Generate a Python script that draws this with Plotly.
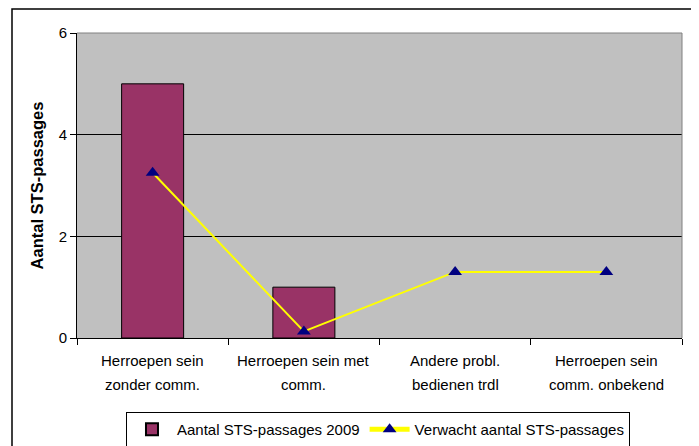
import plotly.graph_objects as go

categories = ["Herroepen sein zonder comm.", "Herroepen sein met comm.",
              "Andere probl. bedienen trdl", "Herroepen sein comm. onbekend"]
label_line1 = ["Herroepen sein", "Herroepen sein met", "Andere probl.", "Herroepen sein"]
label_line2 = ["zonder comm.", "comm.", "bedienen trdl", "comm. onbekend"]
actual_2009 = [5, 1, 0, 0]
expected = [3.25, 0.13, 1.3, 1.3]
y_ticks = [0, 2, 4, 6]

FONT = "Liberation Sans, Arial, sans-serif"

fig = go.Figure()
fig.add_trace(go.Bar(
    x=categories, y=actual_2009, name="Aantal STS-passages 2009",
    marker=dict(color="#993366",
                line=dict(color="black", width=[1 if v > 0 else 0 for v in actual_2009])),
))
fig.add_trace(go.Scatter(
    x=categories, y=expected, name="Verwacht aantal STS-passages",
    mode="lines+markers",
    line=dict(color="#FFFF00", width=2),
    marker=dict(symbol="triangle-up", color="#000080", size=12),
))

annotations = []
for c, l1, l2 in zip(categories, label_line1, label_line2):
    annotations.append(dict(x=c, xref="x", y=-0.0754, yref="paper", text=l1,
                            showarrow=False, yanchor="middle",
                            font=dict(family=FONT, size=15, color="black")))
    annotations.append(dict(x=c, xref="x", y=-0.154, yref="paper", text=l2,
                            showarrow=False, yanchor="middle",
                            font=dict(family=FONT, size=15, color="black")))

fig.update_layout(
    width=691, height=438,
    margin=dict(l=69, r=17, t=25, b=108, autoexpand=False),
    paper_bgcolor="white",
    plot_bgcolor="#C0C0C0",
    bargap=0.59,
    font=dict(family=FONT, size=15, color="black"),
    showlegend=True,
    legend=dict(orientation="h", x=0.4975, xanchor="center", y=-0.2426, yanchor="top",
                bgcolor="white", bordercolor="black", borderwidth=1,
                font=dict(family=FONT, size=15, color="black"),
                itemsizing="constant", itemwidth=40, tracegroupgap=0),
    xaxis=dict(type="category", showticklabels=False, tickson="boundaries",
               ticks="outside", ticklen=6, tickcolor="black", showgrid=False,
               showline=True, linecolor="black", linewidth=1, zeroline=False,
               range=[-0.5, 3.5], automargin=False),
    yaxis=dict(range=[0, 6], tickvals=y_ticks, ticks="outside", ticklen=6,
               tickcolor="black", showgrid=True, gridcolor="black", gridwidth=1,
               showline=True, linecolor="black", linewidth=1, zeroline=False,
               automargin=False,
               tickfont=dict(family=FONT, size=15, color="black"),
               title=dict(text="<b>Aantal STS-passages</b>", standoff=10,
                          font=dict(family=FONT, size=16.5, color="black"))),
    annotations=annotations,
    shapes=[
        dict(type="line", xref="paper", yref="paper", x0=0, x1=1, y0=1, y1=1,
             line=dict(color="#808080", width=1)),
        dict(type="line", xref="paper", yref="paper", x0=1, x1=1, y0=0, y1=1,
             line=dict(color="#808080", width=1)),
        dict(type="rect", xref="paper", yref="paper",
             x0=(12 - 77) / 605, x1=(693 - 77) / 605,
             y0=-0.5, y1=(338 - 9) / 305,
             line=dict(color="black", width=1.5), fillcolor="rgba(0,0,0,0)"),
    ],
)

fig.write_html("out.html")
